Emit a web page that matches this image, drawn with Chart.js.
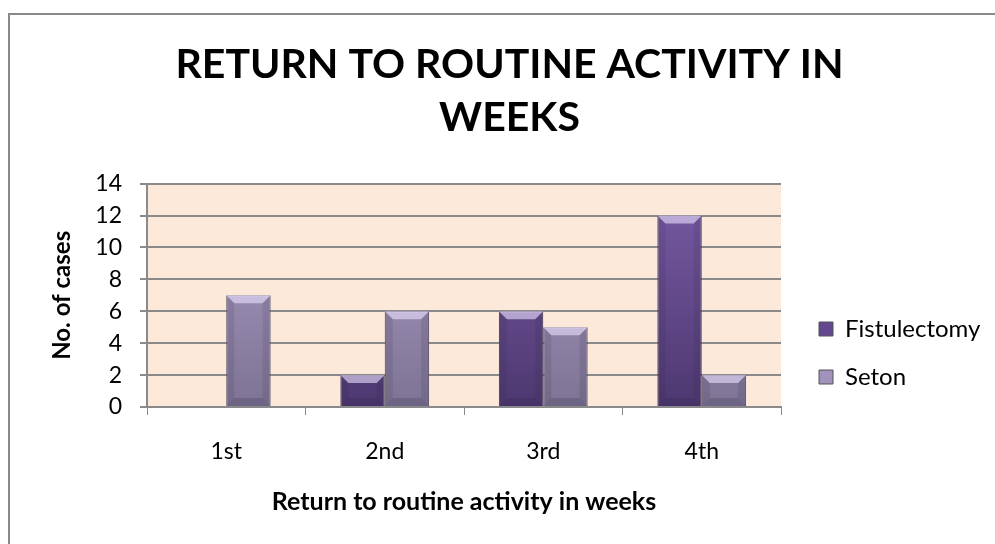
<!DOCTYPE html>
<html>
<head>
<meta charset="utf-8">
<script src="https://cdn.jsdelivr.net/npm/chart.js@4.4.1/dist/chart.umd.min.js"></script>
<style>
  html, body { margin: 0; padding: 0; background: #fff; }
  canvas { display: block; }
</style>
</head>
<body>
<canvas id="chart" width="995" height="544"></canvas>
<script>
// data
var weeks = ["1st", "2nd", "3rd", "4th"];
var fistulectomy = [0, 2, 6, 12];
var seton = [7, 6, 5, 2];
var yMax = 14;
var yStep = 2;

var fontName = "Lato, 'Open Sans', sans-serif";

// vertical gradient over the plot area
function barFill(top, bottom) {
    return function (c) {
        var area = c.chart.chartArea;
        if (!area) return bottom;
        var g = c.chart.ctx.createLinearGradient(0, area.top, 0, area.bottom);
        g.addColorStop(0, top);
        g.addColorStop(1, bottom);
        return g;
    };
}

// peach plot background + gray frame (left/top only)
var backdrop = {
    id: 'backdrop',
    beforeDraw: function (chart) {
        var ctx = chart.ctx, a = chart.chartArea;
        ctx.save();
        ctx.fillStyle = '#fff';
        ctx.fillRect(0, 0, chart.width, chart.height);
        ctx.fillStyle = '#fce9da';
        ctx.fillRect(a.left, a.top, a.right - a.left, a.bottom - a.top);
        ctx.strokeStyle = '#8a8a8a';
        ctx.lineWidth = 2;
        ctx.beginPath();
        ctx.moveTo(9, chart.height);
        ctx.lineTo(9, 14);
        ctx.lineTo(chart.width, 14);
        ctx.stroke();
        ctx.restore();
    }
};

// bevel on each bar, like the office 3d bars
var bevel = {
    id: 'bevel',
    afterDatasetsDraw: function (chart) {
        var ctx = chart.ctx;
        chart.data.datasets.forEach(function (ds, i) {
            var meta = chart.getDatasetMeta(i);
            meta.data.forEach(function (bar) {
                var x0 = bar.x - bar.width / 2, x1 = bar.x + bar.width / 2;
                var y0 = bar.y, y1 = bar.base;
                var h = y1 - y0;
                if (h < 2) return;
                var b = Math.min(8, h / 2);
                ctx.save();
                // top
                ctx.fillStyle = 'rgba(235,225,255,0.6)';
                ctx.beginPath();
                ctx.moveTo(x0, y0); ctx.lineTo(x1, y0); ctx.lineTo(x1 - b, y0 + b); ctx.lineTo(x0 + b, y0 + b);
                ctx.closePath(); ctx.fill();
                // bottom
                ctx.fillStyle = 'rgba(40,30,60,0.18)';
                ctx.beginPath();
                ctx.moveTo(x0, y1); ctx.lineTo(x1, y1); ctx.lineTo(x1 - b, y1 - b); ctx.lineTo(x0 + b, y1 - b);
                ctx.closePath(); ctx.fill();
                // sides
                ctx.fillStyle = 'rgba(40,30,60,0.12)';
                ctx.beginPath();
                ctx.moveTo(x0, y0); ctx.lineTo(x0 + b, y0 + b); ctx.lineTo(x0 + b, y1 - b); ctx.lineTo(x0, y1);
                ctx.closePath(); ctx.fill();
                ctx.beginPath();
                ctx.moveTo(x1, y0); ctx.lineTo(x1 - b, y0 + b); ctx.lineTo(x1 - b, y1 - b); ctx.lineTo(x1, y1);
                ctx.closePath(); ctx.fill();
                ctx.restore();
            });
        });
    }
};

// fixed legend width, then move the legend where it sits in the picture
var legendPlace = {
    id: 'legendPlace',
    beforeLayout: function (chart) {
        var lg = chart.legend;
        if (lg && !lg._fixedFit) {
            var fit = lg.fit;
            lg.fit = function () { fit.call(this); this.width = 214; };
            lg._fixedFit = true;
        }
    },
    afterLayout: function (chart) {
        var lg = chart.legend;
        var w = lg.width, h = lg.height;
        lg.left = 795; lg.right = lg.left + w;
        lg.top = 293; lg.bottom = lg.top + h;
    }
};

var context = document.querySelector('#chart').getContext('2d');
new Chart(context, {
    type: 'bar',
    data: {
        labels: weeks,
        datasets: [{
            label: 'Fistulectomy',
            data: fistulectomy,
            backgroundColor: barFill('#7a5ca6', '#4d3870'),
            borderColor: '#4a4458',
            borderWidth: function (c) { return c.raw ? 1 : 0; },
            barPercentage: 1,
            categoryPercentage: 0.56
        }, {
            label: 'Seton',
            data: seton,
            backgroundColor: barFill('#ad9fc9', '#7d7393'),
            borderColor: '#5a566a',
            borderWidth: 1,
            barPercentage: 1,
            categoryPercentage: 0.56
        }]
    },
    options: {
        responsive: false,
        animation: false,
        layout: { padding: { left: 24, right: 0, top: 14, bottom: 17 } },
        plugins: {
            title: {
                display: true,
                text: ['RETURN TO ROUTINE ACTIVITY IN', 'WEEKS'],
                color: '#000',
                font: { family: fontName, size: 41, weight: 'bold', lineHeight: 1.3 },
                padding: { top: 24, bottom: 39 }
            },
            legend: {
                position: 'right',
                align: 'start',
                labels: {
                    color: '#000',
                    font: { family: fontName, size: 24 },
                    boxWidth: 14,
                    boxHeight: 14,
                    padding: 24,
                    generateLabels: function (chart) {
                        var cols = ['#634890', '#a092bb'];
                        return Chart.defaults.plugins.legend.labels.generateLabels(chart).map(function (it, i) {
                            it.fillStyle = cols[i];
                            it.strokeStyle = '#555';
                            it.lineWidth = 1;
                            return it;
                        });
                    }
                }
            },
            tooltip: { enabled: false }
        },
        scales: {
            x: {
                offset: true,
                grid: { drawOnChartArea: false, drawTicks: true, tickLength: 8, color: '#8a8a8a', offset: true },
                border: { color: '#8a8a8a', width: 2 },
                ticks: { color: '#000', font: { family: fontName, size: 23 }, padding: 23 },
                title: {
                    display: true,
                    text: 'Return to routine activity in weeks',
                    color: '#000',
                    font: { family: fontName, size: 25, weight: 'bold' },
                    padding: { top: 4, bottom: 10 }
                },
                afterFit: function (s) { s.height = 120; }
            },
            y: {
                min: 0,
                max: yMax,
                ticks: { stepSize: yStep, color: '#000', font: { family: fontName, size: 23 }, padding: 18 },
                grid: { color: '#8a8a8a', lineWidth: 2, tickLength: 7 },
                border: { color: '#8a8a8a', width: 2 },
                title: {
                    display: true,
                    text: 'No. of cases',
                    color: '#000',
                    font: { family: fontName, size: 24, weight: 'bold' },
                    padding: { top: 24, bottom: 4 }
                },
                afterFit: function (s) { s.width = 123; }
            }
        }
    },
    plugins: [backdrop, bevel, legendPlace]
});
</script>
</body>
</html>
